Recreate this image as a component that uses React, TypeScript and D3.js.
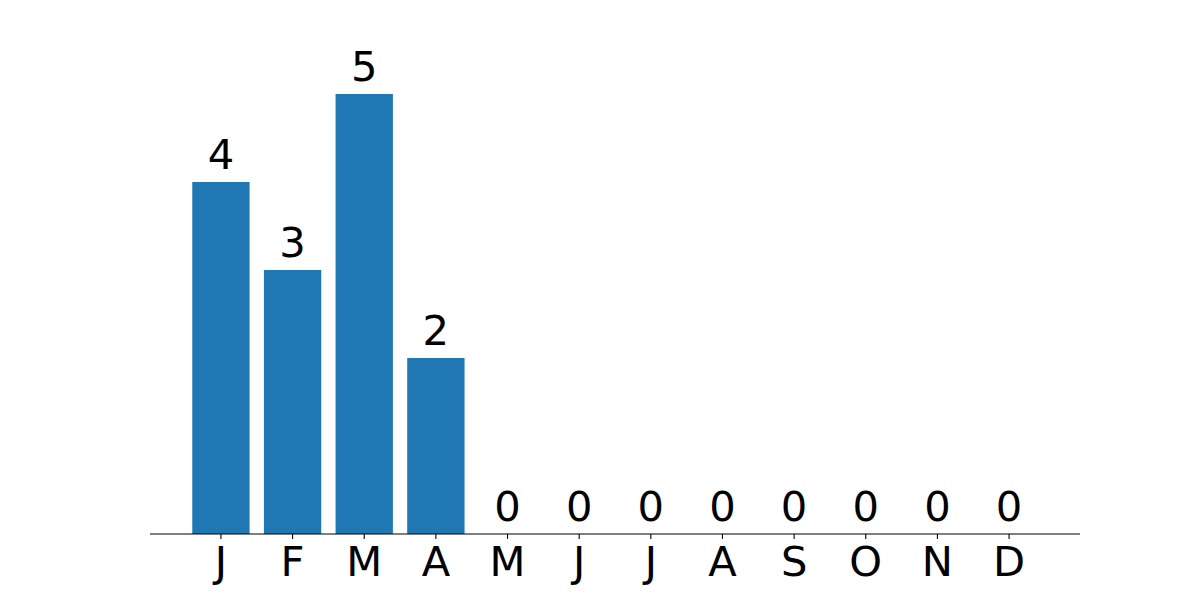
import React from "react";
import * as d3 from "d3";

const months = ["J", "F", "M", "A", "M", "J", "J", "A", "S", "O", "N", "D"];
const counts = [4, 3, 5, 2, 0, 0, 0, 0, 0, 0, 0, 0];

const W = 1200;
const H = 600;
const left = 150;
const right = 1080;
const top = 72;
const bottom = 534;

export default function App() {
  const idx = months.map((_, i) => i);
  const x = d3.scaleLinear().domain([-0.99, 11.99]).range([left, right]);
  const y = d3.scaleLinear().domain([0, 5.25]).range([bottom, top]);
  const bw = x(0.8) - x(0);
  const font = "'DejaVu Sans', sans-serif";
  return (
    <svg width={W} height={H} style={{ position: "absolute", left: 0, top: 0, background: "#fff" }}>
      {idx.map((i) => (
        <rect
          key={"b" + i}
          x={x(i) - bw / 2}
          y={y(counts[i])}
          width={bw}
          height={bottom - y(counts[i])}
          fill="#1f77b4"
        />
      ))}
      {idx.map((i) => (
        <text
          key={"v" + i}
          x={x(i)}
          y={y(counts[i]) - 13}
          textAnchor="middle"
          fontFamily={font}
          fontSize={41.67}
          fill="#000"
        >
          {counts[i]}
        </text>
      ))}
      <line x1={left} x2={right} y1={bottom} y2={bottom} stroke="#000" strokeWidth={1.1} />
      {idx.map((i) => (
        <g key={"t" + i}>
          <line x1={x(i)} x2={x(i)} y1={bottom} y2={bottom + 4.9} stroke="#000" strokeWidth={1.1} />
          <text
            x={x(i)}
            y={575.5}
            textAnchor="middle"
            fontFamily={font}
            fontSize={41.67}
            fill="#000"
          >
            {months[i]}
          </text>
        </g>
      ))}
    </svg>
  );
}
